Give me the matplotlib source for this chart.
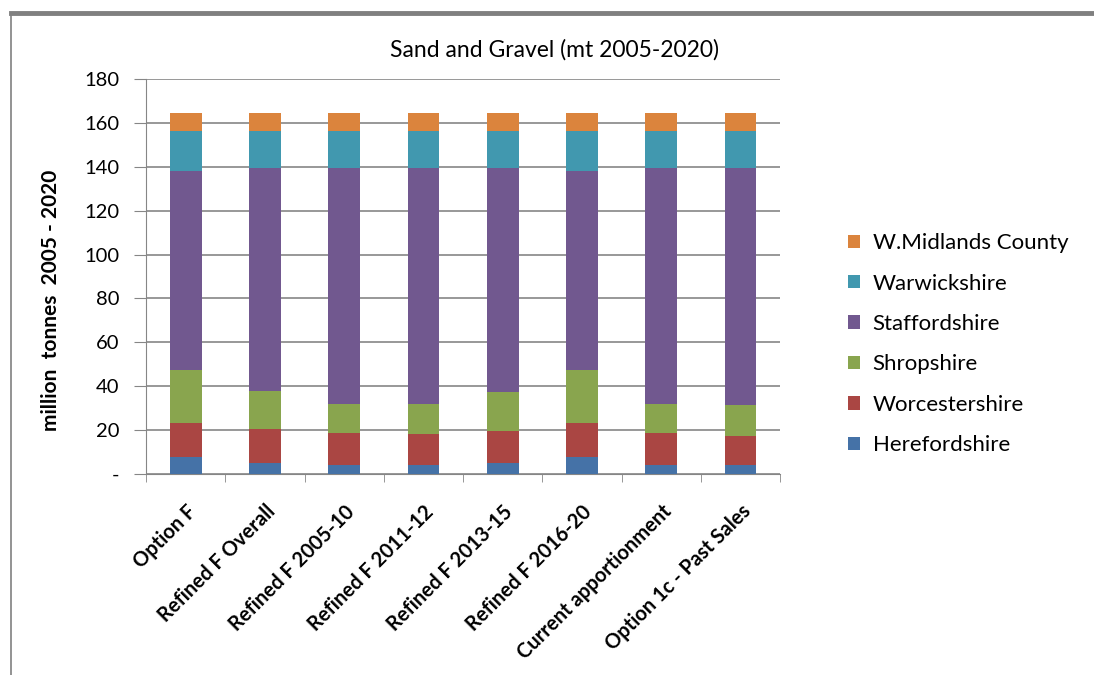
import matplotlib
matplotlib.use("Agg")
import matplotlib.pyplot as plt
import numpy as np

plt.rcParams['font.family'] = ['Lato', 'DejaVu Sans']

# data (million tonnes 2005-2020)
options = ["Option F", "Refined F Overall", "Refined F 2005-10", "Refined F 2011-12",
           "Refined F 2013-15", "Refined F 2016-20", "Current apportionment",
           "Option 1c - Past Sales"]
herefordshire = [7.6, 4.9, 4.0, 4.0, 4.9, 7.6, 4.0, 4.0]
worcestershire = [15.5, 15.5, 14.6, 14.1, 14.6, 15.5, 14.6, 13.2]
shropshire = [24.2, 17.3, 13.2, 13.7, 17.8, 24.2, 13.2, 14.2]
staffordshire = [90.9, 102.0, 107.9, 107.9, 102.4, 90.9, 107.9, 108.3]
warwickshire = [18.2, 16.7, 16.7, 16.7, 16.7, 18.2, 16.7, 16.7]
wmidlands = [8.3, 8.3, 8.3, 8.3, 8.3, 8.3, 8.3, 8.3]

series = [("Herefordshire", herefordshire, "#4572A7"),
          ("Worcestershire", worcestershire, "#AA4643"),
          ("Shropshire", shropshire, "#89A54E"),
          ("Staffordshire", staffordshire, "#71588F"),
          ("Warwickshire", warwickshire, "#4198AF"),
          ("W.Midlands County", wmidlands, "#DB843D")]

yticks = [0, 20, 40, 60, 80, 100, 120, 140, 160, 180]
ytick_labels = ["-", "20", "40", "60", "80", "100", "120", "140", "160", "180"]

fig = plt.figure(figsize=(10.94, 6.75), dpi=100)
ax = fig.add_axes([0.1335, 0.2982, 0.5795, 0.5843])

x = np.arange(len(options))
bottom = np.zeros(len(options))
handles = []
for name, vals, col in series:
    b = ax.bar(x, vals, 0.40, bottom=bottom, color=col, label=name, zorder=3)
    handles.append(b)
    bottom += np.array(vals)

ax.set_xlim(-0.5, len(options) - 0.5)
ax.set_ylim(0, 180)
ax.set_yticks(yticks)
ax.set_yticklabels(ytick_labels, fontsize=14.5)
ax.yaxis.grid(True, color="#868686", linewidth=1.2, zorder=0)
ax.tick_params(axis='y', length=9, color="#868686", pad=10)

ax.set_xticks(x)
ax.set_xticklabels(options, rotation=45, ha='right', va='top',
                   rotation_mode='anchor', fontsize=14.5, fontweight='bold')
ax.tick_params(axis='x', length=0, pad=20)
ax.set_xticks(np.arange(len(options) + 1) - 0.5, minor=True)
ax.tick_params(axis='x', which='minor', length=6, color="#868686")

for s in ["top", "right"]:
    ax.spines[s].set_visible(False)
for s in ["left", "bottom"]:
    ax.spines[s].set_color("#868686")

fig.text(0.047, 0.555, "million  tonnes  2005 - 2020", rotation=90, ha='center', va='center',
         fontsize=15, fontweight='bold')
fig.text(0.507, 0.926, "Sand and Gravel (mt 2005-2020)", ha='center', va='center', fontsize=16.5)

leg = fig.legend(handles[::-1], [s[0] for s in series][::-1], loc='center left',
                 bbox_to_anchor=(0.757, 0.49), frameon=False, fontsize=16,
                 handlelength=0.55, handleheight=0.55, labelspacing=0.92, handletextpad=0.55)

# outer frame of the page figure
fig.add_artist(plt.Line2D([0.01, 1.0], [0.981, 0.981], color="#808080", linewidth=3.5))
fig.add_artist(plt.Line2D([0.0105, 0.0105], [0.0, 0.981], color="#808080", linewidth=1.2))

fig.savefig("out.png", dpi=100)
